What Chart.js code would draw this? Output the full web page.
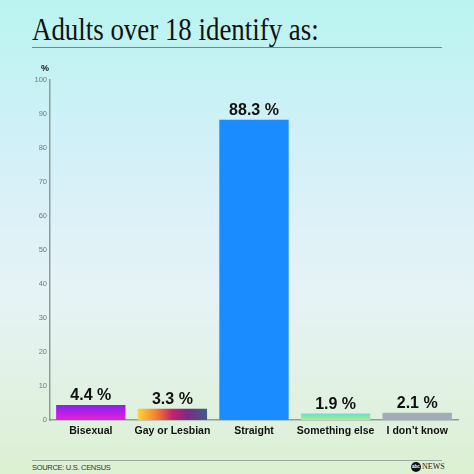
<!DOCTYPE html>
<html>
<head>
<meta charset="utf-8">
<script src="https://cdn.jsdelivr.net/npm/chart.js@4"></script>
<style>
  html, body { margin: 0; padding: 0; }
  body {
    width: 474px; height: 474px; position: relative; overflow: hidden;
    background: linear-gradient(to bottom, #b9f4f0 0%, #d3f0f8 32%, #e6f3f6 62%, #dcf0d2 100%);
    font-family: "Liberation Sans", Arial, sans-serif;
  }
  #title {
    position: absolute; left: 32px; top: 11px; margin: 0;
    font-family: "Liberation Serif", serif; font-weight: normal; font-size: 32px;
    color: #111; white-space: nowrap; transform-origin: left top; transform: scaleX(0.84);
  }
  .rule { position: absolute; left: 32px; width: 410px; height: 1px; background: #7b8585; }
  #source {
    position: absolute; left: 32px; top: 463px; font-size: 7.5px; color: #333;
    letter-spacing: -0.3px;
  }
  #logo { position: absolute; left: 411px; top: 461px; height: 11px; display: flex; align-items: center; }
  #logo .dot {
    width: 10px; height: 10px; border-radius: 50%; background: #111; color: #fff;
    font-size: 4.5px; font-weight: bold; line-height: 10px; text-align: center;
  }
  #logo .news { font-family: "Liberation Serif", serif; font-size: 8px; color: #222; margin-left: 1px; }
  #graf { position: absolute; left: 0; top: 0; }
</style>
</head>
<body>
<h1 id="title">Adults over 18 identify as:</h1>
<div class="rule" style="top:47px"></div>
<div class="rule" style="top:460px;background:#9aa4a0"></div>
<div id="source">SOURCE: U.S. CENSUS</div>
<div id="logo"><div class="dot">abc</div><div class="news">NEWS</div></div>
<canvas id="graf" width="474" height="474"></canvas>
<script>
// dados
const categorias = ['Bisexual', 'Gay or Lesbian', 'Straight', 'Something else', "I don\u2019t know"]
const valores = [4.4, 3.3, 88.3, 1.9, 2.1]
const ticksY = [0, 10, 20, 30, 40, 50, 60, 70, 80, 90, 100]

const BAR_FRAC = 0.85

// cor de cada barra (algumas com gradiente)
function corBarra(c) {
    const chart = c.chart
    const area = chart.chartArea
    if (!area) return '#1a8cff'
    const ctx = chart.ctx
    const i = c.dataIndex
    const y = chart.scales.y
    if (i === 0) {
        const g = ctx.createLinearGradient(0, y.getPixelForValue(valores[0]), 0, y.getPixelForValue(0))
        g.addColorStop(0, '#8a1ff6')
        g.addColorStop(1, '#e222d2')
        return g
    }
    if (i === 1) {
        const x = chart.scales.x
        const w = (area.right - area.left) / categorias.length * BAR_FRAC
        const cx = x.getPixelForValue(1)
        const g = ctx.createLinearGradient(cx - w / 2, 0, cx + w / 2, 0)
        g.addColorStop(0, '#ffd43c')
        g.addColorStop(0.25, '#f5862e')
        g.addColorStop(0.5, '#c5226c')
        g.addColorStop(0.72, '#7b2a86')
        g.addColorStop(1, '#3f5d88')
        return g
    }
    if (i === 3) {
        const g = ctx.createLinearGradient(0, y.getPixelForValue(valores[3]), 0, y.getPixelForValue(0))
        g.addColorStop(0, '#5ee0e2')
        g.addColorStop(1, '#bce876')
        return g
    }
    if (i === 4) return '#a3aab8'
    return '#1a8cff'
}

// rótulos em cima das barras + "%" do eixo
const rotulos = {
    id: 'rotulos',
    afterDatasetsDraw(chart) {
        const ctx = chart.ctx
        const meta = chart.getDatasetMeta(0)
        ctx.save()
        ctx.fillStyle = '#111'
        ctx.font = 'bold 16px "Liberation Sans", Arial, sans-serif'
        ctx.textAlign = 'center'
        ctx.textBaseline = 'alphabetic'
        meta.data.forEach((bar, i) => {
            ctx.fillText(valores[i].toFixed(1) + ' %', bar.x, bar.y - 5)
        })
        ctx.font = 'bold 9px "Liberation Sans", Arial, sans-serif'
        ctx.fillText('%', chart.chartArea.left - 5, chart.chartArea.top - 9)
        ctx.restore()
    }
}

const ctx = document.getElementById('graf').getContext('2d')

const grafic = new Chart(ctx, {
    type: 'bar',
    data: {
        labels: categorias,
        datasets: [{
            data: valores,
            backgroundColor: corBarra,
            borderWidth: 0,
            barPercentage: 1,
            categoryPercentage: BAR_FRAC
        }]
    },
    options: {
        responsive: false,
        animation: false,
        devicePixelRatio: 1,
        layout: { padding: { top: 80, right: 16, left: 0, bottom: 0 } },
        plugins: {
            legend: { display: false },
            tooltip: { enabled: false }
        },
        scales: {
            x: {
                grid: { display: false, drawTicks: false },
                border: { display: true, color: '#8f9c9c', width: 1.5 },
                ticks: {
                    color: '#111',
                    padding: 5,
                    autoSkip: false,
                    maxRotation: 0,
                    minRotation: 0,
                    font: { family: '"Liberation Sans", Arial, sans-serif', size: 10.5, weight: 'bold' }
                },
                afterFit(s) { s.height = 54 }
            },
            y: {
                min: 0,
                max: 100,
                afterBuildTicks(s) { s.ticks = ticksY.map(v => ({ value: v })) },
                grid: { display: false, drawTicks: false },
                border: { display: true, color: '#8f9c9c', width: 1.5 },
                ticks: {
                    color: '#6f7a7c',
                    padding: 3,
                    font: { family: '"Liberation Sans", Arial, sans-serif', size: 7.5 }
                },
                afterFit(s) { s.width = 50 }
            }
        }
    },
    plugins: [rotulos]
})
</script>
</body>
</html>
